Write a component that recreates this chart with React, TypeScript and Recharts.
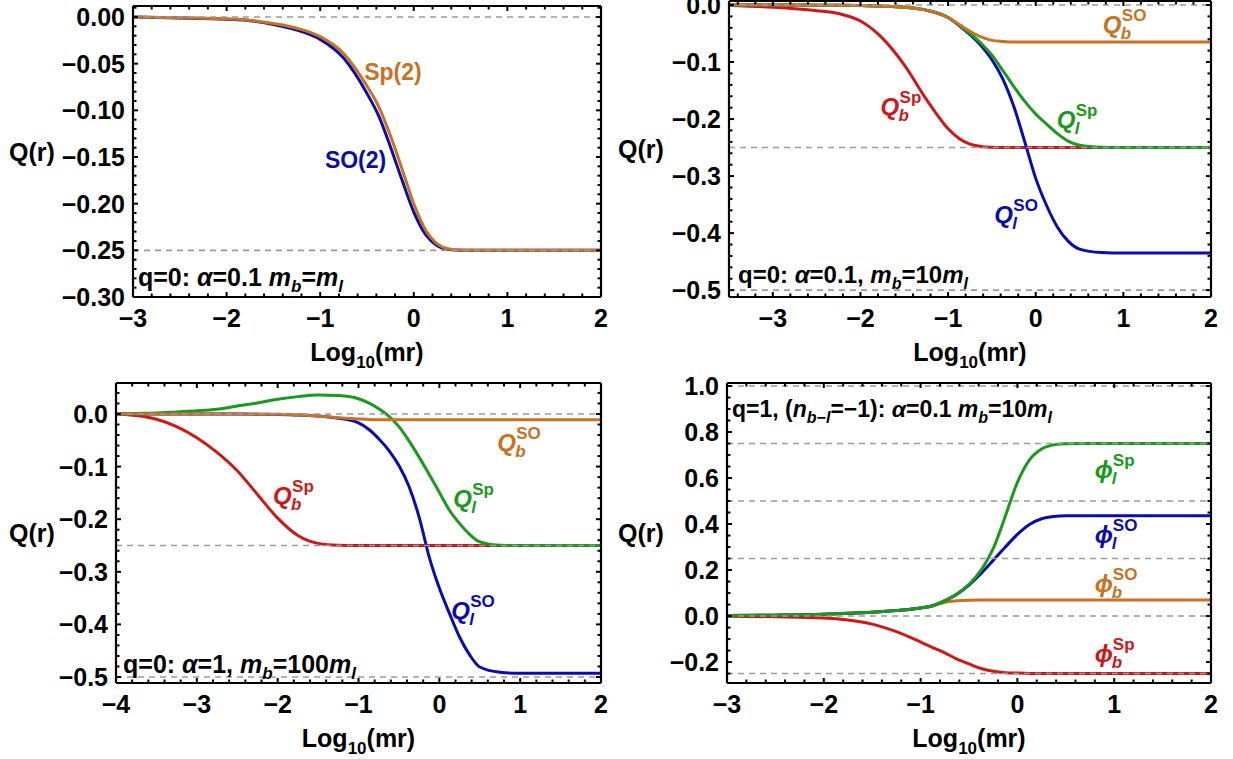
import React from 'react';
import { LineChart, Line, XAxis, YAxis, ReferenceLine, ReferenceDot, Label } from 'recharts';

const FONT = '"Liberation Sans", Arial, Helvetica, "DejaVu Sans", sans-serif';
const ORANGE = '#c8721e';
const BLUE = '#0b0bb2';
const RED = '#d01717';
const GREEN = '#1a9a1a';
const DASH = '#9b9b9b';

// ---------- Panel 1 : q=0, alpha=0.1, mb=ml ----------
const p1X = [-3, -2.5, -2, -1.75, -1.5, -1.25, -1, -0.75, -0.5, -0.375, -0.25, -0.125, 0, 0.125, 0.25, 0.375, 0.5, 0.75, 1, 1.5, 2];
const p1Sp = [0, -0.0008, -0.002, -0.0035, -0.007, -0.012, -0.021, -0.039, -0.074, -0.096, -0.127, -0.163, -0.2, -0.228, -0.243, -0.2485, -0.2497, -0.25, -0.25, -0.25, -0.25];
const p1SO = [0, -0.001, -0.0025, -0.004, -0.008, -0.014, -0.024, -0.044, -0.082, -0.106, -0.139, -0.175, -0.209, -0.233, -0.245, -0.249, -0.2499, -0.25, -0.25, -0.25, -0.25];
const p1XMajor = [-3, -2, -1, 0, 1, 2];
const p1YMajor = [-0.3, -0.25, -0.2, -0.15, -0.1, -0.05, 0];
const p1Dashed = [0, -0.25];

// ---------- Panel 2 : q=0, alpha=0.1, mb=10ml ----------
const p2X = [-3.5, -3, -2.5, -2.25, -2, -1.75, -1.5, -1.25, -1, -0.875, -0.75, -0.625, -0.5, -0.375, -0.25, -0.125, 0, 0.125, 0.25, 0.375, 0.5, 0.75, 1, 1.5, 2];
const p2QbSp = [-0.001, -0.004, -0.01, -0.015, -0.028, -0.058, -0.105, -0.165, -0.217, -0.234, -0.244, -0.248, -0.2495, -0.25, -0.25, -0.25, -0.25, -0.25, -0.25, -0.25, -0.25, -0.25, -0.25, -0.25, -0.25];
const p2QlSp = [0, 0, -0.0003, -0.0005, -0.001, -0.002, -0.004, -0.009, -0.022, -0.035, -0.05, -0.067, -0.088, -0.115, -0.143, -0.169, -0.191, -0.209, -0.226, -0.239, -0.246, -0.2495, -0.25, -0.25, -0.25];
const p2QbSO = [0, 0, -0.0003, -0.0005, -0.001, -0.002, -0.004, -0.009, -0.022, -0.034, -0.046, -0.056, -0.062, -0.064, -0.065, -0.065, -0.065, -0.065, -0.065, -0.065, -0.065, -0.065, -0.065, -0.065, -0.065];
const p2QlSO = [0, 0, -0.0003, -0.0005, -0.001, -0.002, -0.004, -0.009, -0.022, -0.036, -0.052, -0.071, -0.096, -0.13, -0.178, -0.24, -0.304, -0.352, -0.39, -0.415, -0.428, -0.434, -0.435, -0.435, -0.435];
const p2XMajor = [-3, -2, -1, 0, 1, 2];
const p2YMajor = [-0.5, -0.4, -0.3, -0.2, -0.1, 0];
const p2Dashed = [0, -0.25, -0.5];

// ---------- Panel 3 : q=0, alpha=1, mb=100ml ----------
const p3X = [-4, -3.75, -3.5, -3.25, -3, -2.75, -2.5, -2.25, -2, -1.75, -1.5, -1.25, -1, -0.875, -0.75, -0.625, -0.5, -0.375, -0.25, -0.125, 0, 0.125, 0.25, 0.375, 0.5, 0.75, 1, 1.5, 2];
const p3QbSp = [0, -0.003, -0.01, -0.024, -0.045, -0.073, -0.108, -0.153, -0.198, -0.231, -0.246, -0.2495, -0.25, -0.25, -0.25, -0.25, -0.25, -0.25, -0.25, -0.25, -0.25, -0.25, -0.25, -0.25, -0.25, -0.25, -0.25, -0.25, -0.25];
const p3QlSp = [0, 0.001, 0.002, 0.004, 0.006, 0.009, 0.015, 0.021, 0.028, 0.033, 0.036, 0.035, 0.029, 0.021, 0.01, -0.004, -0.024, -0.051, -0.082, -0.115, -0.149, -0.183, -0.208, -0.229, -0.243, -0.2495, -0.25, -0.25, -0.25];
const p3QbSO = [0, 0, 0, 0, 0, 0, -0.0001, -0.0003, -0.0006, -0.0015, -0.004, -0.007, -0.0095, -0.0105, -0.011, -0.011, -0.011, -0.011, -0.011, -0.011, -0.011, -0.011, -0.011, -0.011, -0.011, -0.011, -0.011, -0.011, -0.011];
const p3QlSO = [0, 0, 0, 0, 0, 0, -0.0002, -0.0004, -0.0008, -0.0018, -0.004, -0.008, -0.017, -0.029, -0.047, -0.069, -0.098, -0.138, -0.196, -0.272, -0.331, -0.379, -0.424, -0.458, -0.481, -0.491, -0.493, -0.493, -0.493];
const p3XMajor = [-4, -3, -2, -1, 0, 1, 2];
const p3YMajor = [-0.5, -0.4, -0.3, -0.2, -0.1, 0];
const p3Dashed = [0, -0.25, -0.5];

// ---------- Panel 4 : q=1, alpha=0.1, mb=10ml ----------
const p4X = [-3, -2.5, -2, -1.75, -1.5, -1.25, -1, -0.875, -0.75, -0.625, -0.5, -0.375, -0.25, -0.125, 0, 0.125, 0.25, 0.375, 0.5, 0.75, 1, 1.5, 2];
const p4PlSp = [0.002, 0.004, 0.008, 0.012, 0.017, 0.024, 0.035, 0.045, 0.067, 0.096, 0.138, 0.2, 0.293, 0.434, 0.581, 0.679, 0.726, 0.744, 0.749, 0.75, 0.75, 0.75, 0.75];
const p4PlSO = [0.002, 0.004, 0.008, 0.012, 0.017, 0.024, 0.035, 0.045, 0.067, 0.095, 0.135, 0.185, 0.242, 0.3, 0.355, 0.398, 0.423, 0.433, 0.436, 0.436, 0.436, 0.436, 0.436];
const p4PbSO = [0.002, 0.004, 0.008, 0.012, 0.017, 0.024, 0.035, 0.044, 0.06, 0.066, 0.069, 0.07, 0.07, 0.07, 0.07, 0.07, 0.07, 0.07, 0.07, 0.07, 0.07, 0.07, 0.07];
const p4PbSp = [-0.001, -0.003, -0.008, -0.017, -0.035, -0.068, -0.113, -0.137, -0.16, -0.187, -0.208, -0.228, -0.24, -0.246, -0.248, -0.2495, -0.25, -0.25, -0.25, -0.25, -0.25, -0.25, -0.25];
const p4XMajor = [-3, -2, -1, 0, 1, 2];
const p4YMajor = [-0.2, 0, 0.2, 0.4, 0.6, 0.8, 1.0];
const p4Dashed = [1, 0.75, 0.5, 0.25, 0, -0.25];

// ---------- rendering helpers ----------
const X_GAP = 21; // frame to x tick label centre
const Y_GAP = 8; // frame to y tick label end
const MAJ = 5; // major tick length (px, from frame centre)
const MIN = 3.5; // minor tick length
const TICK_FS = 25;
const AXIS = { stroke: '#000', strokeWidth: 2.2 };

function range(a: number, b: number, step: number) {
  const out: number[] = [];
  const n = Math.round((b - a) / step);
  for (let i = 0; i <= n; i++) out.push(+(a + i * step).toFixed(6));
  return out;
}
const isMajor = (v: number, majors: number[]) => majors.some((m) => Math.abs(m - v) < 1e-6);
const fmt = (v: number, dec: number) => (Math.abs(v) < 1e-9 ? 0 : v).toFixed(dec).replace('-', '\u2212');

function BottomTick(p: any) {
  if (!isMajor(p.payload.value, p.majors)) return <g />;
  return (
    <text x={Number(p.x)} y={Number(p.y)} dy="0.36em" textAnchor="middle" fontFamily={FONT} fontWeight="bold" fontSize={TICK_FS} fill="#000">
      {fmt(p.payload.value, 0)}
    </text>
  );
}
function LeftTick(p: any) {
  if (!isMajor(p.payload.value, p.majors)) return <g />;
  return (
    <text x={Number(p.x)} y={Number(p.y)} dy="0.36em" textAnchor="end" fontFamily={FONT} fontWeight="bold" fontSize={TICK_FS} fill="#000">
      {fmt(p.payload.value, p.dec)}
    </text>
  );
}

function XTitle(props: any) {
  const vb = props.viewBox;
  return (
    <text x={vb.x + vb.width / 2} y={vb.y + 55} dy="0.36em" textAnchor="middle" fontFamily={FONT} fontWeight="bold" fontSize={25} fill="#000">
      Log<tspan dy={7} fontSize={17}>10</tspan>
      <tspan dy={-7}>(mr)</tspan>
    </text>
  );
}
function YTitle(props: any) {
  const vb = props.viewBox;
  return (
    <text x={vb.x + props.dx} y={vb.y + vb.height / 2} dy="0.36em" textAnchor="start" fontFamily={FONT} fontWeight="bold" fontSize={25} fill="#000">
      Q(r)
    </text>
  );
}

type Seg = [string, string?];
function RichText({ x, y, segs, size, color }: { x: number; y: number; segs: Seg[]; size: number; color: string }) {
  let cur = 0;
  const sub = Math.round(size * 0.68);
  return (
    <text x={x} y={y} fill={color} fontFamily={FONT} fontWeight="bold" fontSize={size} style={{ whiteSpace: 'pre' }}>
      {segs.map(([t, f = ''], i) => {
        const isSub = f.includes('s');
        const target = isSub ? 6 : 0;
        const dy = target - cur;
        cur = target;
        return (
          <tspan key={i} dy={dy} fontStyle={f.includes('i') ? 'italic' : 'normal'} fontSize={isSub ? sub : size}>
            {t}
          </tspan>
        );
      })}
    </text>
  );
}
function Sym({ x, y, base, sup, sub, color }: any) {
  const w = base === 'Q' ? 19 : 18;
  return (
    <g fill={color} fontFamily={FONT} fontWeight="bold">
      <text x={x} y={y} fontSize={24} fontStyle="italic">{base}</text>
      <text x={x + w} y={y - 12} fontSize={17}>{sup}</text>
      <text x={x + w - 1} y={y + 6} fontSize={17} fontStyle="italic">{sub}</text>
    </g>
  );
}

function renderAnn(a: any, cx: number, cy: number) {
  if (a.kind === 'sym') return <Sym x={cx} y={cy} base={a.base} sup={a.sup} sub={a.sub} color={a.color} />;
  return <RichText x={cx} y={cy} segs={a.segs} size={a.size || 25} color={a.color} />;
}

// ---------- annotation texts ----------
const p1Note: Seg[] = [['q=0: '], ['\u03b1', 'i'], ['=0.1 '], ['m', 'i'], ['b', 'si'], ['='], ['m', 'i'], ['l', 'si']];
const p2Note: Seg[] = [['q=0: '], ['\u03b1', 'i'], ['=0.1, '], ['m', 'i'], ['b', 'si'], ['=10'], ['m', 'i'], ['l', 'si']];
const p3Note: Seg[] = [['q=0: '], ['\u03b1', 'i'], ['=1, '], ['m', 'i'], ['b', 'si'], ['=100'], ['m', 'i'], ['l', 'si']];
const p4Note: Seg[] = [['q=1, ('], ['n', 'i'], ['b', 'si'], ['\u2212', 's'], ['l', 'si'], ['=\u22121): '], ['\u03b1', 'i'], ['=0.1 '], ['m', 'i'], ['b', 'si'], ['=10'], ['m', 'i'], ['l', 'si']];

const PHI = '\u03d5';

const panels = [
  {
    box: { l: 0, t: 0, w: 616, h: 380 },
    plot: { l: 133, r: 601, t: 6, b: 297 },
    xDomain: [-3, 2], yDomain: [-0.3, 0.0118],
    xTicks: range(-3, 2, 0.2), xMajors: p1XMajor,
    yTicks: range(-0.3, 0.01, 0.01), yMajors: p1YMajor, yDec: 2,
    data: p1X.map((x, i) => ({ x, a: p1SO[i], b: p1Sp[i] })),
    series: [{ key: 'a', color: BLUE }, { key: 'b', color: ORANGE }],
    dashed: p1Dashed, qdx: 9,
    labels: [
      { x: -0.53, y: -0.0675, kind: 'txt', segs: [['Sp(2)']], color: ORANGE, size: 23 },
      { x: -0.95, y: -0.162, kind: 'txt', segs: [['SO(2)']], color: BLUE, size: 23 },
      { x: -2.947, y: -0.288, kind: 'txt', segs: p1Note, color: '#000' },
    ],
  },
  {
    box: { l: 616, t: 0, w: 617, h: 380 },
    plot: { l: 729, r: 1211, t: 1, b: 297 },
    xDomain: [-3.5, 2], yDomain: [-0.512, 0.007],
    xTicks: range(-3.4, 2, 0.2), xMajors: p2XMajor,
    yTicks: range(-0.5, 0, 0.02), yMajors: p2YMajor, yDec: 1,
    data: p2X.map((x, i) => ({ x, a: p2QbSp[i], b: p2QlSO[i], c: p2QlSp[i], d: p2QbSO[i] })),
    series: [{ key: 'a', color: RED }, { key: 'b', color: BLUE }, { key: 'c', color: GREEN }, { key: 'd', color: ORANGE }],
    dashed: p2Dashed, qdx: 2,
    labels: [
      { x: 0.766, y: -0.049, kind: 'sym', base: 'Q', sup: 'SO', sub: 'b', color: ORANGE },
      { x: -1.77, y: -0.193, kind: 'sym', base: 'Q', sup: 'Sp', sub: 'b', color: RED },
      { x: 0.24, y: -0.216, kind: 'sym', base: 'Q', sup: 'Sp', sub: 'l', color: GREEN },
      { x: -0.472, y: -0.382, kind: 'sym', base: 'Q', sup: 'SO', sub: 'l', color: BLUE },
      { x: -3.397, y: -0.488, kind: 'txt', segs: p2Note, color: '#000', size: 24 },
    ],
  },
  {
    box: { l: 0, t: 370, w: 616, h: 389 },
    plot: { l: 116, r: 601, t: 383, b: 683 },
    xDomain: [-4, 2], yDomain: [-0.5114, 0.0589],
    xTicks: range(-4, 2, 0.2), xMajors: p3XMajor,
    yTicks: range(-0.5, 0.04, 0.02), yMajors: p3YMajor, yDec: 1,
    data: p3X.map((x, i) => ({ x, a: p3QbSp[i], b: p3QlSO[i], c: p3QlSp[i], d: p3QbSO[i] })),
    series: [{ key: 'a', color: RED }, { key: 'b', color: BLUE }, { key: 'c', color: GREEN }, { key: 'd', color: ORANGE }],
    dashed: p3Dashed, qdx: 9,
    labels: [
      { x: 0.715, y: -0.07, kind: 'sym', base: 'Q', sup: 'SO', sub: 'b', color: ORANGE },
      { x: -2.057, y: -0.171, kind: 'sym', base: 'Q', sup: 'Sp', sub: 'b', color: RED },
      { x: 0.171, y: -0.177, kind: 'sym', base: 'Q', sup: 'Sp', sub: 'l', color: GREEN },
      { x: 0.146, y: -0.39, kind: 'sym', base: 'Q', sup: 'SO', sub: 'l', color: BLUE },
      { x: -3.913, y: -0.492, kind: 'txt', segs: p3Note, color: '#000' },
    ],
  },
  {
    box: { l: 616, t: 370, w: 617, h: 389 },
    plot: { l: 727, r: 1211, t: 383, b: 683 },
    xDomain: [-3, 2], yDomain: [-0.291, 1.013],
    xTicks: range(-3, 2, 0.2), xMajors: p4XMajor,
    yTicks: range(-0.25, 1.0, 0.05), yMajors: p4YMajor, yDec: 1,
    data: p4X.map((x, i) => ({ x, a: p4PbSp[i], b: p4PbSO[i], c: p4PlSO[i], d: p4PlSp[i] })),
    series: [{ key: 'a', color: RED }, { key: 'b', color: ORANGE }, { key: 'c', color: BLUE }, { key: 'd', color: GREEN }],
    dashed: p4Dashed, qdx: 2,
    labels: [
      { x: 0.8, y: 0.6, kind: 'sym', base: PHI, sup: 'Sp', sub: 'l', color: GREEN },
      { x: 0.8, y: 0.317, kind: 'sym', base: PHI, sup: 'SO', sub: 'l', color: BLUE },
      { x: 0.8, y: 0.104, kind: 'sym', base: PHI, sup: 'SO', sub: 'b', color: ORANGE },
      { x: 0.8, y: -0.2, kind: 'sym', base: PHI, sup: 'Sp', sub: 'b', color: RED },
      { x: -2.948, y: 0.865, kind: 'txt', segs: p4Note, color: '#000', size: 23 },
    ],
  },
];

// frame tick marks on all four sides, as short segments in data coordinates
function frameTicks(cfg: any) {
  const [x0, x1] = cfg.xDomain;
  const [y0, y1] = cfg.yDomain;
  const perPxY = (y1 - y0) / (cfg.plot.b - cfg.plot.t);
  const perPxX = (x1 - x0) / (cfg.plot.r - cfg.plot.l);
  const segs: any[] = [];
  cfg.xTicks.forEach((v: number) => {
    const L = isMajor(v, cfg.xMajors) ? MAJ : MIN;
    segs.push([{ x: v, y: y0 }, { x: v, y: y0 + L * perPxY }]);
    segs.push([{ x: v, y: y1 }, { x: v, y: y1 - L * perPxY }]);
  });
  cfg.yTicks.forEach((v: number) => {
    const L = isMajor(v, cfg.yMajors) ? MAJ : MIN;
    segs.push([{ x: x0, y: v }, { x: x0 + L * perPxX, y: v }]);
    segs.push([{ x: x1, y: v }, { x: x1 - L * perPxX, y: v }]);
  });
  return segs;
}

function Panel({ cfg }: { cfg: any }) {
  const { box, plot } = cfg;
  const leftW = plot.l - box.l;
  const rightW = box.l + box.w - plot.r;
  const topH = plot.t - box.t;
  const botH = box.t + box.h - plot.b;
  const segs = frameTicks(cfg);
  return (
    <div style={{ position: 'absolute', left: box.l, top: box.t, width: box.w, height: box.h }}>
      <LineChart width={box.w} height={box.h} data={cfg.data} margin={{ top: 0, right: 0, bottom: 0, left: 0 }}>
        <XAxis xAxisId="b" dataKey="x" type="number" domain={cfg.xDomain} allowDataOverflow ticks={cfg.xTicks} interval={0}
          height={botH} tickLine={false} tickSize={0} tickMargin={X_GAP} axisLine={AXIS}
          tick={(p: any) => <BottomTick {...p} majors={cfg.xMajors} />}>
          <Label content={XTitle} />
        </XAxis>
        <XAxis xAxisId="t" orientation="top" dataKey="x" type="number" domain={cfg.xDomain} allowDataOverflow ticks={cfg.xTicks}
          height={topH} tickLine={false} tick={false} axisLine={AXIS} />
        <YAxis yAxisId="l" type="number" domain={cfg.yDomain} allowDataOverflow ticks={cfg.yTicks} interval={0}
          width={leftW} tickLine={false} tickSize={0} tickMargin={Y_GAP} axisLine={AXIS}
          tick={(p: any) => <LeftTick {...p} majors={cfg.yMajors} dec={cfg.yDec} />}>
          <Label content={(p: any) => <YTitle {...p} dx={cfg.qdx} />} />
        </YAxis>
        <YAxis yAxisId="r" orientation="right" type="number" domain={cfg.yDomain} allowDataOverflow ticks={cfg.yTicks}
          width={rightW} tickLine={false} tick={false} axisLine={AXIS} />
        {cfg.series.map((s: any) => (
          <Line key={s.key} xAxisId="b" yAxisId="l" dataKey={s.key} type="monotone" stroke={s.color} strokeWidth={3}
            dot={false} activeDot={false} isAnimationActive={false} />
        ))}
        {cfg.dashed.map((v: number) => (
          <ReferenceLine key={'d' + v} xAxisId="b" yAxisId="l" y={v} stroke={DASH} strokeWidth={1.6} strokeDasharray="6 5" ifOverflow="visible" />
        ))}
        {segs.map((sg: any, i: number) => (
          <ReferenceLine key={'t' + i} xAxisId="b" yAxisId="l" segment={sg} stroke="#000" strokeWidth={2} ifOverflow="visible" />
        ))}
        {cfg.labels.map((a: any, i: number) => (
          <ReferenceDot key={i} xAxisId="b" yAxisId="l" x={a.x} y={a.y} r={0} ifOverflow="visible"
            shape={(p: any) => renderAnn(a, p.cx, p.cy)} />
        ))}
      </LineChart>
    </div>
  );
}

export default function App() {
  return (
    <div style={{ position: 'absolute', left: 0, top: 0, width: 1233, height: 759, background: '#fff' }}>
      {panels.map((c, i) => (
        <Panel key={i} cfg={c} />
      ))}
    </div>
  );
}
